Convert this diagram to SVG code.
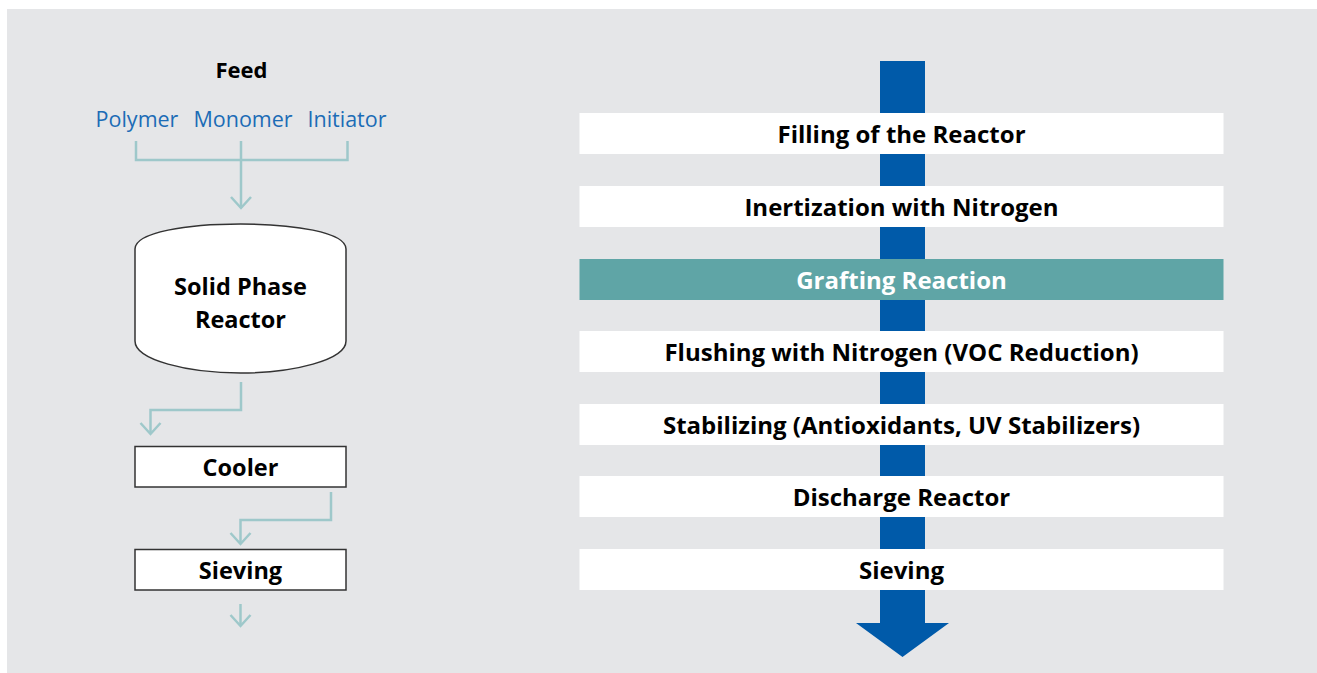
<svg xmlns="http://www.w3.org/2000/svg" width="1317" height="673" viewBox="0 0 1317 673">
<style>
.bold{font-family:"Open Sans","DejaVu Sans",sans-serif;font-weight:bold;fill:#000;text-anchor:middle}
.feedin{font-family:"Open Sans","DejaVu Sans",sans-serif;font-size:21.5px;fill:#1c6cb6;text-anchor:middle}
.conn{fill:none;stroke:#9ec8ca;stroke-width:2.5}
.lbox{fill:#fff;stroke:#333;stroke-width:1.5}
.rbox{fill:#fff}
</style>
<rect x="0" y="0" width="1317" height="673" fill="#fff"/>
<rect x="7" y="9" width="1310" height="664" fill="#e5e6e8"/>

<g id="feed">
<text class="bold" x="241.5" y="78" font-size="22">Feed</text>
<text class="feedin" x="137" y="127">Polymer</text>
<text class="feedin" x="243" y="127">Monomer</text>
<text class="feedin" x="347" y="127">Initiator</text>
</g>

<g id="connectors">
<path class="conn" d="M136,141 V160 H347.5 V141 M241,141 V208"/>
<path class="conn" d="M231,197 L241,208 L251,197"/>
<path class="conn" d="M241,382 V410 H150.5 V434"/>
<path class="conn" d="M140.5,423 L150.5,434 L160.5,423"/>
<path class="conn" d="M331,492 V520 H240.5 V544"/>
<path class="conn" d="M230.5,533 L240.5,544 L250.5,533"/>
<path class="conn" d="M240.5,604 V626"/>
<path class="conn" d="M230.5,615 L240.5,626 L250.5,615"/>
</g>

<g id="reactor">
<path class="lbox" d="M135,249 C135,232 188,224 240.5,224 C293,224 346,232 346,249 V341 C346,360 293,373 240.5,373 C188,373 135,360 135,341 Z"/>
<text class="bold" x="240.5" y="295" font-size="23.5">Solid Phase</text>
<text class="bold" x="240.5" y="328" font-size="23.5">Reactor</text>
</g>

<g id="cooler">
<rect class="lbox" x="135" y="446.5" width="211" height="40.5"/>
<text class="bold" x="240.5" y="476" font-size="23.5">Cooler</text>
</g>

<g id="sieving-left">
<rect class="lbox" x="135" y="549.5" width="211" height="40.5"/>
<text class="bold" x="240.5" y="579" font-size="23.5">Sieving</text>
</g>

<g id="process-arrow">
<path fill="#005aa9" d="M880,61 H925 V623 H949 L902.5,657 L856,623 H880 Z"/>
</g>

<g id="step1">
<rect class="rbox" x="579.5" y="113" width="644" height="41"/>
<text class="bold" x="901.5" y="142.5" font-size="24">Filling of the Reactor</text>
</g>
<g id="step2">
<rect class="rbox" x="579.5" y="186" width="644" height="41"/>
<text class="bold" x="901.5" y="215.5" font-size="24">Inertization with Nitrogen</text>
</g>
<g id="step3">
<rect x="579.5" y="259" width="644" height="41" fill="#5fa5a6"/>
<text class="bold" x="901.5" y="288.5" font-size="24" style="fill:#fff">Grafting Reaction</text>
</g>
<g id="step4">
<rect class="rbox" x="579.5" y="331" width="644" height="41"/>
<text class="bold" x="901.5" y="360.5" font-size="24">Flushing with Nitrogen (VOC Reduction)</text>
</g>
<g id="step5">
<rect class="rbox" x="579.5" y="404" width="644" height="41"/>
<text class="bold" x="901.5" y="433.5" font-size="24">Stabilizing (Antioxidants, UV Stabilizers)</text>
</g>
<g id="step6">
<rect class="rbox" x="579.5" y="476" width="644" height="41"/>
<text class="bold" x="901.5" y="505.5" font-size="24">Discharge Reactor</text>
</g>
<g id="step7">
<rect class="rbox" x="579.5" y="549" width="644" height="41"/>
<text class="bold" x="901.5" y="578.5" font-size="24">Sieving</text>
</g>
</svg>
